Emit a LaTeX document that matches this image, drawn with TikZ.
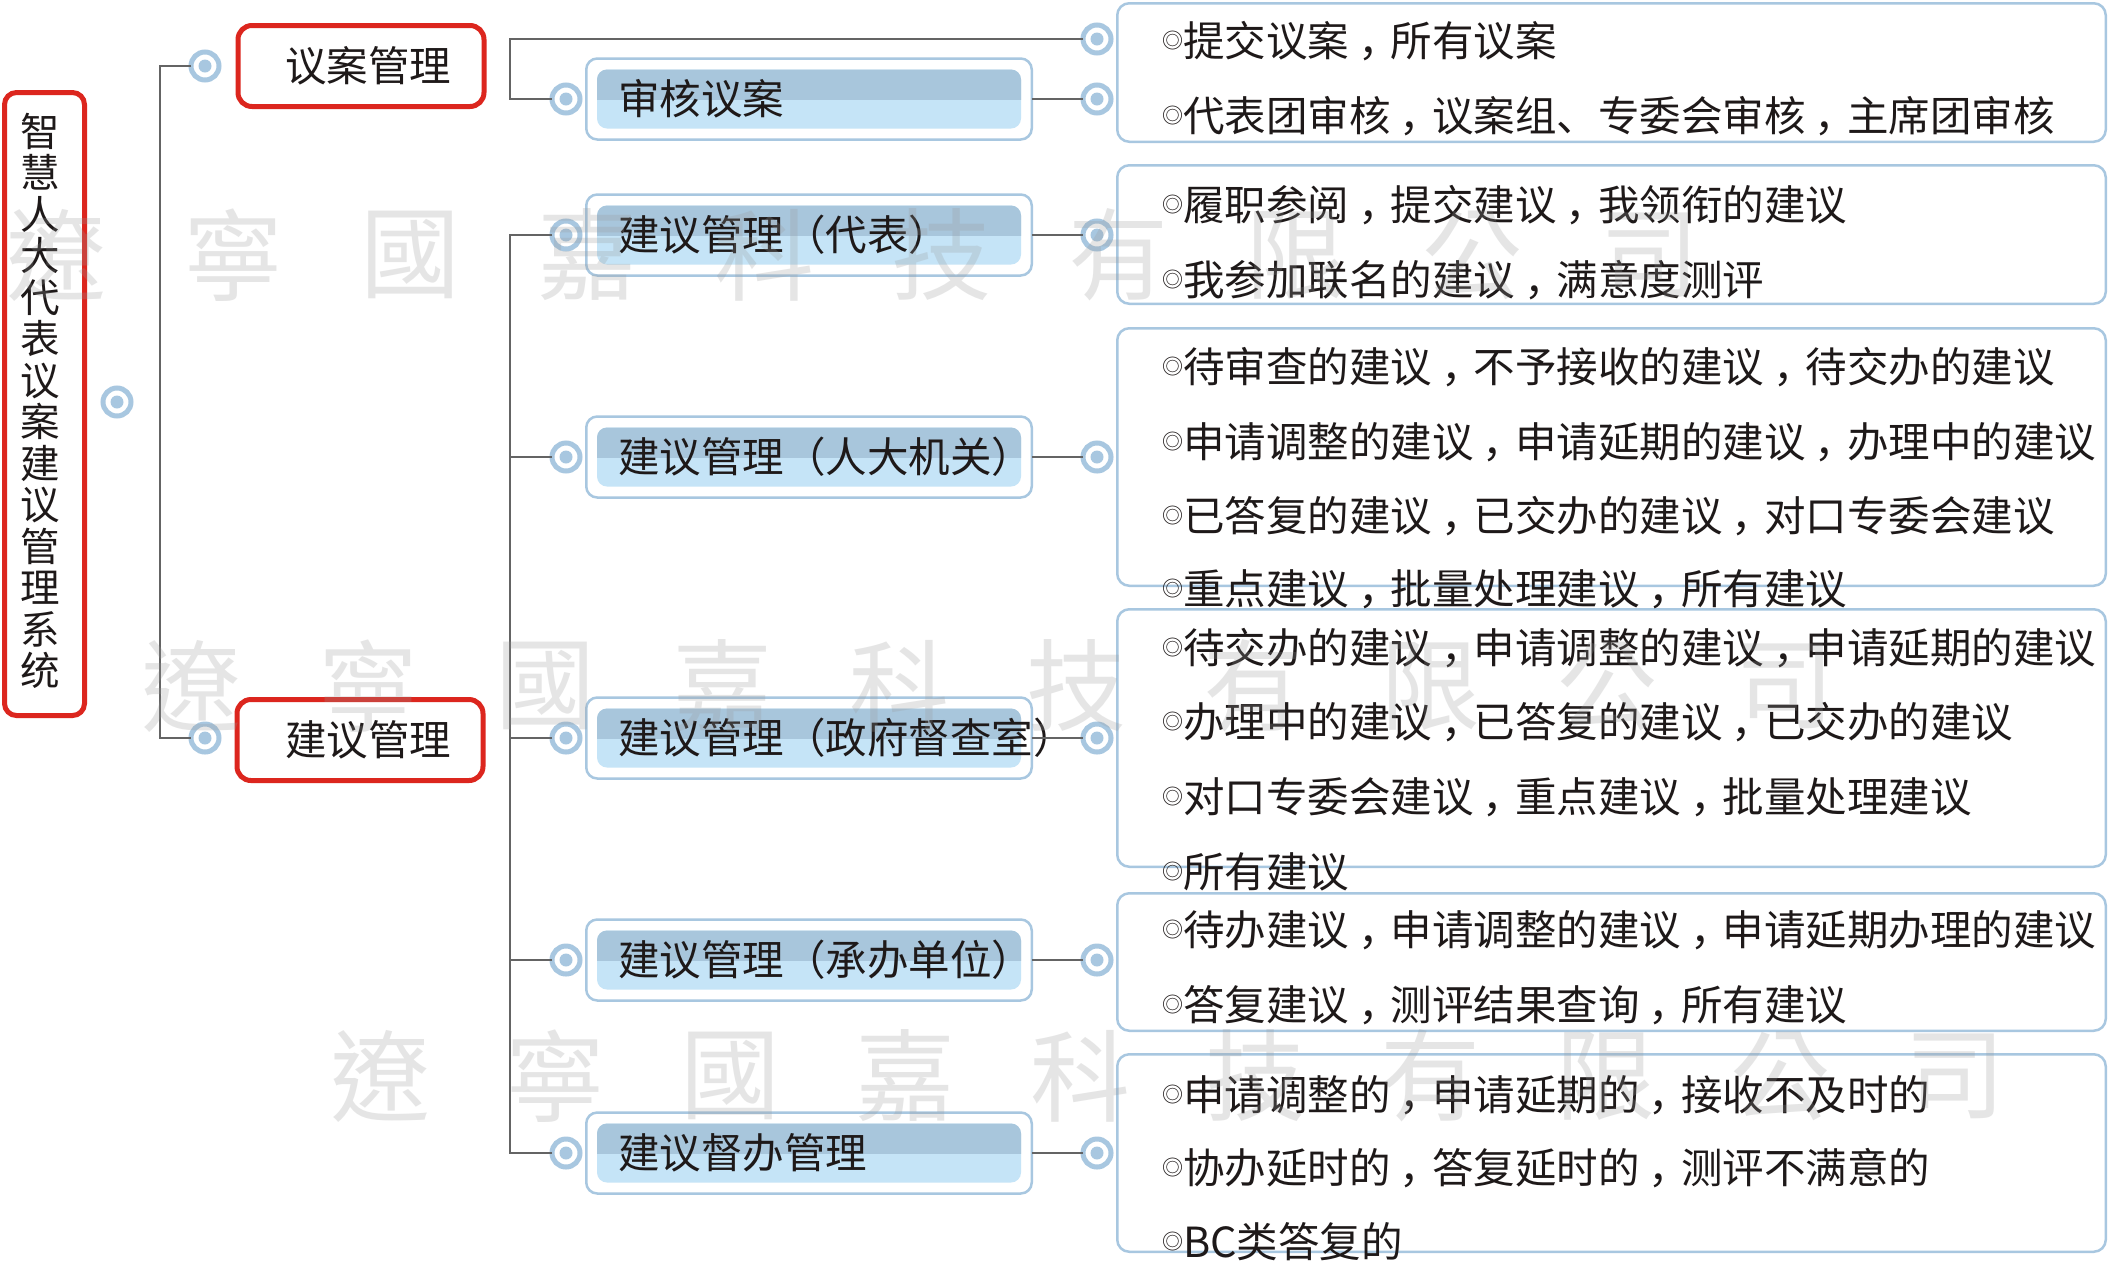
\documentclass[tikz,border=0pt]{standalone}
\usepackage{fontspec}
\setmainfont{Noto Sans CJK SC}
\newfontfamily\wmfont{Noto Sans CJK TC}
\newfontfamily\tcfont{Noto Sans CJK TC}
\newcommand\zc{\makebox[1em][l]{\hspace{0.22em}\makebox[0pt][l]{，}}}
\newcommand\lpar{{\tcfont （}}
\newcommand\rpar{{\tcfont ）}}
\usetikzlibrary{calc}
\definecolor{redb}{RGB}{220,38,30}
\definecolor{blueb}{RGB}{168,199,224}
\definecolor{knobc}{RGB}{168,199,224}
\definecolor{bardark}{RGB}{168,198,220}
\definecolor{barlight}{RGB}{197,228,247}
\definecolor{connc}{RGB}{100,100,100}
\definecolor{ink}{RGB}{30,25,25}
\newcommand\subtopic[3]{%
  \node[subouter] (#1) at (809,#2) {};
  \fill[barlight, rounded corners=10pt] ($(#1.center)+(-212,-29.5)$) rectangle ($(#1.center)+(212,29.5)$);
  \begin{scope}
    \clip ($(#1.center)+(-220,-35)$) rectangle ($(#1.center)+(220,0)$);
    \fill[bardark, rounded corners=10pt] ($(#1.center)+(-212,-29.5)$) rectangle ($(#1.center)+(212,29.5)$);
  \end{scope}
  \node[txt, anchor=west] (#1t) at ($(#1.center)+(-191,0)$) {#3};
}
\newcommand\knobat[3]{%
  \node[knob] (#1) at (#2,#3) {};
  \fill[knobc] (#1.center) circle (6.5pt);
}
\newcommand\dline[3]{%
  \node[txt, anchor=base west] (#1) at (1162,#2+15.8) {\raisebox{8pt}{\fontsize{21}{21}\selectfont ◎}#3};
}
\begin{document}
\begin{tikzpicture}[x=1pt,y=-1pt,
  every node/.style={inner sep=0pt, outer sep=0pt},
  txt/.style={font=\fontsize{41.5}{41.5}\selectfont, text=ink},
  rootbox/.style={draw=redb, line width=5pt, rounded corners=12pt, fill=white, minimum width=80pt, minimum height=623pt},
  topbox/.style={draw=redb, line width=5pt, rounded corners=14pt, fill=white, minimum width=246pt, minimum height=81pt},
  subouter/.style={draw=blueb, line width=2.5pt, rounded corners=11pt, fill=white, minimum width=445.5pt, minimum height=81pt},
  detbox/.style={draw=blueb, line width=2.5pt, rounded corners=12pt, fill=white, minimum width=988.5pt},
  knob/.style={circle, draw=knobc, line width=5pt, fill=white, minimum size=28pt},
  conn/.style={draw=connc, line width=2.8pt},
  wm/.style={font=\wmfont\fontsize{100}{100}\selectfont, text=gray!80, text opacity=0.25},
]
\useasboundingbox (0,0) rectangle (2109,1262);
\fill[white] (0,0) rectangle (2109,1262);

\coordinate (v1) at (160,0);
\coordinate (v2) at (510,0);

% detail boxes
\node[detbox, minimum height=138.5pt] (d1) at (1611.5,72.5) {};
\node[detbox, minimum height=138.5pt] (d2) at (1611.5,234.5) {};
\node[detbox, minimum height=257.5pt] (d3) at (1611.5,457) {};
\node[detbox, minimum height=257.5pt] (d4) at (1611.5,738) {};
\node[detbox, minimum height=137.5pt] (d5) at (1611.5,962) {};
\node[detbox, minimum height=197.5pt] (d6) at (1611.5,1153) {};

% root and first level
\node[rootbox] (root) at (44.5,404) {};
\node[txt, font=\fontsize{39.5}{41.5}\selectfont, align=center] (roottext) at (40,401) {智\\慧\\人\\大\\代\\表\\议\\案\\建\\议\\管\\理\\系\\统};
\node[topbox] (yagl) at (361,66) {};
\node[txt] (yaglt) at (368,66) {议案管理};
\node[topbox] (jygl) at (360,740) {};
\node[txt] (jyglt) at (368,740) {建议管理};

% second level
\subtopic{s1}{99}{审核议案}
\subtopic{s2}{235}{建议管理\lpar 代表\rpar}
\subtopic{s3}{457}{建议管理\lpar 人大机关\rpar}
\subtopic{s4}{738}{建议管理\lpar 政府督查室\rpar}
\subtopic{s5}{960}{建议管理\lpar 承办单位\rpar}
\subtopic{s6}{1153}{建议督办管理}

% knobs
\knobat{kroot}{117}{402}
\knobat{k1a}{205}{66}
\knobat{k1b}{205}{738}
\knobat{ks1}{566}{99}
\knobat{ks2}{566}{235}
\knobat{ks3}{566}{457}
\knobat{ks4}{566}{738}
\knobat{ks5}{566}{960}
\knobat{ks6}{566}{1153}
\knobat{kd1a}{1097}{39}
\knobat{kd1b}{1097}{99}
\knobat{kd2}{1097}{235}
\knobat{kd3}{1097}{457}
\knobat{kd4}{1097}{738}
\knobat{kd5}{1097}{960}
\knobat{kd6}{1097}{1153}

% connectors
\draw[conn] (k1a.west) -| (v1 |- k1b) -- (k1b.west);
\draw[conn] (kd1a.west) -| (v2 |- ks1) -- (ks1.west);
\draw[conn] (ks2.west) -| (v2 |- ks6) -- (ks6.west);
\draw[conn] (ks3.west) -- (v2 |- ks3);
\draw[conn] (ks4.west) -- (v2 |- ks4);
\draw[conn] (ks5.west) -- (v2 |- ks5);
\draw[conn] (s1.east) -- (kd1b.west);
\draw[conn] (s2.east) -- (kd2.west);
\draw[conn] (s3.east) -- (kd3.west);
\draw[conn] (s4.east) -- (kd4.west);
\draw[conn] (s5.east) -- (kd5.west);
\draw[conn] (s6.east) -- (kd6.west);

% detail texts
\dline{t11}{41}{提交议案\zc 所有议案}
\dline{t12}{116}{代表团审核\zc 议案组、专委会审核\zc 主席团审核}
\dline{t21}{205}{履职参阅\zc 提交建议\zc 我领衔的建议}
\dline{t22}{280}{我参加联名的建议\zc 满意度测评}
\dline{t31}{367}{待审查的建议\zc 不予接收的建议\zc 待交办的建议}
\dline{t32}{442}{申请调整的建议\zc 申请延期的建议\zc 办理中的建议}
\dline{t33}{516}{已答复的建议\zc 已交办的建议\zc 对口专委会建议}
\dline{t34}{589}{重点建议\zc 批量处理建议\zc 所有建议}
\dline{t41}{648}{待交办的建议\zc 申请调整的建议\zc 申请延期的建议}
\dline{t42}{722}{办理中的建议\zc 已答复的建议\zc 已交办的建议}
\dline{t43}{797}{对口专委会建议\zc 重点建议\zc 批量处理建议}
\dline{t44}{872}{所有建议}
\dline{t51}{930}{待办建议\zc 申请调整的建议\zc 申请延期办理的建议}
\dline{t52}{1005}{答复建议\zc 测评结果查询\zc 所有建议}
\dline{t61}{1095}{申请调整的\zc 申请延期的\zc 接收不及时的}
\dline{t62}{1168}{协办延时的\zc 答复延时的\zc 测评不满意的}
\dline{t63}{1242}{BC类答复的}

% watermark
\foreach \c [count=\i] in {遼,寧,國,嘉,科,技,有,限,公,司} {
  \node[wm] (wa\i) at (56+177*\i-177,255) {\c};
  \node[wm] (wb\i) at (191+177*\i-177,686) {\c};
  \node[wm] (wc\i) at (380+175*\i-175,1076) {\c};
}
\end{tikzpicture}
\end{document}
